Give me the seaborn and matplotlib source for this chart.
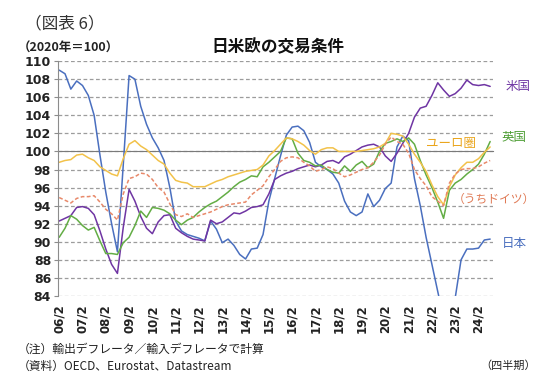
import numpy as np
import pandas as pd
import matplotlib
matplotlib.use("Agg")
import matplotlib.pyplot as plt
import seaborn as sns

# quarterly, 2006Q2 - 2024Q4 (2020 = 100)
japan = [109.0, 108.6, 106.9, 107.8, 107.3, 106.2, 104.0, 99.6, 95.5, 92.0,
         88.9, 98.5, 108.4, 108.0, 105.0, 103.0, 101.5, 100.4, 99.0, 96.0,
         92.3, 91.2, 90.8, 90.6, 90.4, 90.1, 92.3, 91.4, 89.9, 90.3,
         89.6, 88.6, 88.1, 89.2, 89.3, 90.8, 94.5, 97.0, 99.5, 101.8,
         102.7, 102.8, 102.3, 101.0, 98.8, 98.3, 98.0, 97.5, 96.5, 94.5,
         93.3, 92.9, 93.3, 95.3, 93.9, 94.6, 95.9, 96.5, 100.5, 101.7,
         101.2, 97.0, 94.0, 90.5, 87.5, 84.5, 81.5, 80.5, 83.8, 88.0,
         89.2, 89.2, 89.3, 90.2, 90.3]
usa = [92.3, 92.6, 92.9, 93.8, 93.9, 93.7, 93.0, 91.2, 89.2, 87.5,
       86.5, 91.6, 95.8, 94.5, 92.8, 91.5, 90.9, 92.2, 92.9, 93.0,
       91.5, 91.0, 90.6, 90.3, 90.2, 90.1, 92.4, 92.0, 92.2, 92.7,
       93.2, 93.1, 93.4, 93.8, 93.9, 94.1, 95.3, 96.9, 97.3, 97.6,
       97.8, 98.1, 98.3, 98.5, 98.3, 98.5, 98.9, 99.0, 98.7, 99.4,
       99.7, 100.1, 100.5, 100.7, 100.8, 100.5, 99.5, 98.9, 99.8, 100.9,
       102.0, 103.8, 104.8, 105.0, 106.2, 107.6, 106.8, 106.1, 106.4, 107.0,
       107.9, 107.4, 107.3, 107.4, 107.2]
uk = [90.5, 91.5, 92.9, 92.5, 91.8, 91.3, 91.6, 90.1, 88.7, 88.7,
      88.6, 89.9, 90.5, 91.8, 93.4, 92.7, 93.8, 93.7, 93.5, 93.1,
      92.4, 91.9, 92.4, 92.7, 93.3, 93.8, 94.2, 94.5, 95.0, 95.5,
      96.1, 96.6, 96.9, 97.3, 97.2, 98.3, 98.8, 99.4, 100.0, 101.5,
      101.4, 99.8, 99.0, 98.8, 98.4, 98.5, 98.0, 97.7, 97.6, 98.4,
      97.8, 98.5, 98.9, 98.2, 98.6, 100.0, 100.9, 101.1, 101.4, 101.1,
      101.5, 100.8, 99.0, 97.4, 96.0, 94.4, 92.6, 95.7, 96.5, 96.9,
      97.5, 98.0, 98.6, 99.7, 101.1]
euro = [98.8, 99.0, 99.1, 99.6, 99.7, 99.3, 99.0, 98.3, 97.9, 97.5,
        97.3, 99.2, 100.8, 101.2, 100.6, 100.2, 99.6, 99.0, 98.6, 97.6,
        96.8, 96.6, 96.5, 96.1, 96.1, 96.1, 96.4, 96.7, 96.9, 97.2,
        97.4, 97.6, 97.8, 97.9, 98.0, 98.5, 99.5, 100.1, 100.8, 101.5,
        101.4, 101.1, 100.7, 100.1, 99.7, 100.2, 100.4, 100.4, 100.0, 100.0,
        100.0, 100.0, 100.1, 100.2, 100.3, 100.5, 100.9, 102.0, 101.9, 101.7,
        100.8, 99.7, 98.8, 97.8, 96.3, 95.0, 94.1, 96.1, 97.4, 98.2,
        98.8, 98.8, 99.2, 99.9, 100.5]
germany = [94.9, 94.6, 94.3, 94.8, 95.0, 95.0, 95.1, 94.4, 93.6, 93.1,
           92.4, 95.3, 97.0, 97.2, 97.6, 97.5, 96.9, 96.0, 95.5, 94.2,
           93.0, 92.8, 93.1, 92.7, 92.9, 93.1, 93.3, 93.6, 93.9, 94.1,
           94.2, 94.3, 94.4, 95.2, 95.7, 96.2, 97.2, 98.0, 98.9, 99.3,
           99.4, 99.3, 98.8, 98.4, 97.8, 98.0, 98.3, 98.1, 97.6, 97.2,
           97.4, 97.7, 98.0, 98.2, 98.8, 99.6, 100.8, 101.6, 101.1, 100.8,
           99.8, 98.0, 97.0, 96.2, 95.0, 94.5, 94.0, 96.5, 97.5, 98.0,
           98.1, 98.1, 98.3, 98.7, 99.0]

tick_labels = ["06/2", "07/2", "08/2", "09/2", "10/2", "11/2", "12/2", "13/2",
               "14/2", "15/2", "16/2", "17/2", "18/2", "19/2", "20/2", "21/2",
               "22/2", "23/2", "24/2"]

names = ["日本", "米国", "英国", "ユーロ圏", "ドイツ"]
colors = {"日本": "#4a6fbf", "米国": "#6f35a3", "英国": "#63ad45",
          "ユーロ圏": "#f2c24a", "ドイツ": "#e8896a"}

rows = []
for name, vals in zip(names, [japan, usa, uk, euro, germany]):
    for t, v in enumerate(vals):
        rows.append({"t": t, "value": v, "series": name})
df = pd.DataFrame(rows)

sns.set_style("white")
plt.rcParams["font.family"] = ["Noto Sans CJK JP", "DejaVu Sans"]

fig = plt.figure(figsize=(5.5, 3.87), dpi=100)
ax = fig.add_axes([0.1055, 0.2351, 0.791, 0.607])

sns.lineplot(data=df, x="t", y="value", hue="series", style="series",
             hue_order=names, style_order=names, palette=colors,
             dashes={"日本": "", "米国": "", "英国": "", "ユーロ圏": "",
                     "ドイツ": (2.5, 1.5)},
             linewidth=1.1, legend=False, ax=ax)

n = len(japan)
ax.set_xlim(-0.2, n - 0.5)
ax.set_ylim(84, 110)
ax.set_yticks(np.arange(84, 111, 2))
ax.yaxis.grid(True, linestyle=(0, (3, 2)), color="#9c9c9c", linewidth=0.9)
ax.xaxis.grid(False)
ax.set_xlabel("")
ax.set_ylabel("")

for s in ["top", "right"]:
    ax.spines[s].set_visible(False)
ax.spines["left"].set_color("#8c8c8c")
ax.spines["bottom"].set_position(("data", 100))
ax.spines["bottom"].set_color("#7a7a7a")
ax.spines["bottom"].set_zorder(1)

tick_pos = np.arange(0, n, 4)
ax.set_xticks(tick_pos)
ax.tick_params(axis="x", direction="out", length=3, color="#7a7a7a",
               labelbottom=False)
ax.tick_params(axis="y", direction="out", length=3, color="#8c8c8c",
               left=True, pad=2)
for lab in ax.get_yticklabels():
    lab.set_fontfamily("DejaVu Sans")
    lab.set_fontweight("bold")
    lab.set_fontsize(9)
    lab.set_color("#222222")

sec = ax.secondary_xaxis(0)
sec.set_xticks(tick_pos)
sec.set_xticklabels(tick_labels, rotation=90, fontfamily="DejaVu Sans",
                    fontweight="bold", fontsize=8.5, color="#222222")
sec.tick_params(length=0, pad=6)
sec.spines["bottom"].set_visible(False)

# series labels
ax.text(n + 1.7, 107.2, "米国", color=colors["米国"], fontsize=9,
        va="center", clip_on=False)
ax.text(n + 1.0, 101.6, "英国", color="#4f9e35", fontsize=9,
        va="center", clip_on=False)
ax.text(67.2, 100.9, "ユーロ圏", color="#eaa51c", fontsize=9,
        ha="center", va="center")
ax.text(74.6, 94.7, "（うちドイツ）", color="#e07a55", fontsize=8.5,
        ha="center", va="center", clip_on=False)
ax.text(n + 1.0, 89.8, "日本", color=colors["日本"], fontsize=9,
        va="center", clip_on=False)

fig.text(0.045, 0.938, "（図表 6）", fontsize=12, color="#333333", va="center")
fig.text(0.033, 0.876, "（2020年＝100）", fontsize=9, color="#222222",
         va="center", fontweight="bold")
fig.text(0.505, 0.878, "日米欧の交易条件", fontsize=12, fontweight="bold",
         color="#111111", ha="center", va="center")
fig.text(0.033, 0.097, "（注）輸出デフレータ／輸入デフレータで計算",
         fontsize=8.5, color="#222222", va="center")
fig.text(0.033, 0.054, "（資料）OECD、Eurostat、Datastream",
         fontsize=8.5, color="#222222", va="center")
fig.text(0.975, 0.056, "（四半期）", fontsize=8, color="#222222",
         ha="right", va="center")

fig.savefig("out.png", dpi=100, facecolor="white")
